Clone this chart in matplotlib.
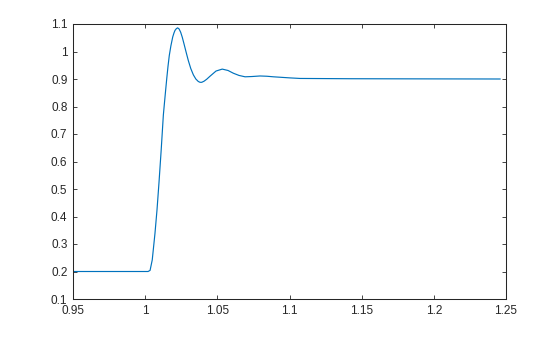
import matplotlib.pyplot as plt

# step response
t = [0.95, 1.0, 1.002, 1.0034, 1.0049, 1.0068, 1.0082, 1.0096, 1.0111,
     1.0126, 1.0134, 1.0142, 1.0150, 1.0158, 1.0167, 1.0178, 1.0191,
     1.0200, 1.0207, 1.0216, 1.0225, 1.0235, 1.0246, 1.0257, 1.0269,
     1.0284, 1.0299, 1.0316, 1.0334, 1.0351, 1.0368, 1.0380, 1.0392,
     1.0408, 1.0426, 1.0449, 1.0491, 1.0534, 1.0574, 1.0611, 1.0650,
     1.0692, 1.0740, 1.0796, 1.0844, 1.0888, 1.1004, 1.1073, 1.1419,
     1.19, 1.2459]
y = [0.2, 0.2, 0.2, 0.204, 0.242, 0.339, 0.424, 0.525, 0.642,
     0.769, 0.815, 0.860, 0.904, 0.945, 0.985, 1.020, 1.053,
     1.068, 1.077, 1.083, 1.086, 1.082, 1.070, 1.052, 1.028,
     0.997, 0.967, 0.938, 0.915, 0.900, 0.891, 0.888, 0.888,
     0.892, 0.899, 0.910, 0.929, 0.936, 0.931, 0.921, 0.913,
     0.908, 0.909, 0.911, 0.910, 0.908, 0.904, 0.902, 0.901,
     0.9005, 0.9]

xticks = [0.95, 1.0, 1.05, 1.1, 1.15, 1.2, 1.25]
xticklabels = ["0.95", "1", "1.05", "1.1", "1.15", "1.2", "1.25"]
yticks = [0.1, 0.2, 0.3, 0.4, 0.5, 0.6, 0.7, 0.8, 0.9, 1.0, 1.1]
yticklabels = ["0.1", "0.2", "0.3", "0.4", "0.5", "0.6", "0.7", "0.8",
               "0.9", "1", "1.1"]

plt.rcParams["font.family"] = ["Liberation Sans", "DejaVu Sans"]

fig = plt.figure(figsize=(5.6, 3.37), dpi=100)
ax = fig.add_axes([73 / 560, 1 - 299 / 337, 433 / 560, 275 / 337])

ax.plot(t, y, color="#0072BD", linewidth=0.85)

ax.set_xlim(0.95, 1.25)
ax.set_ylim(0.1, 1.1)
ax.set_xticks(xticks)
ax.set_xticklabels(xticklabels)
ax.set_yticks(yticks)
ax.set_yticklabels(yticklabels)

ax.tick_params(direction="in", length=3, width=0.6, top=True, right=True,
               labelsize=8.5, colors="#262626", pad=4)
for s in ax.spines.values():
    s.set_color("#262626")
    s.set_linewidth(0.75)

fig.savefig("out.png", dpi=100)
